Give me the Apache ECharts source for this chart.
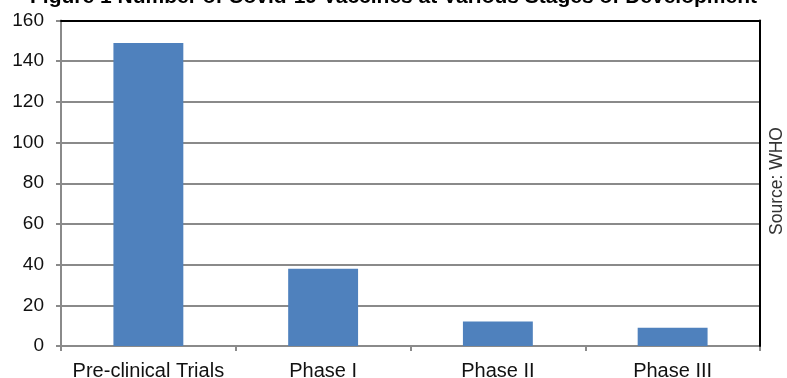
<!DOCTYPE html>
<html>
<head>
<meta charset="utf-8">
<script src="https://cdn.jsdelivr.net/npm/echarts@6/dist/echarts.min.js"></script>
<style>html,body{margin:0;padding:0;background:#fff}#c{width:787px;height:378px}</style>
</head>
<body>
<div id="c"></div>
<script>
const categories = ['Pre-clinical Trials', 'Phase I', 'Phase II', 'Phase III'];
const vaccines = [149, 38, 12, 9];
const yTicks = { min: 0, max: 160, interval: 20 };
const titleText = 'Figure 1 Number of Covid-19 Vaccines at Various Stages of Development';
const sourceText = 'Source: WHO';

const chart = echarts.init(document.getElementById('c'));
const FONT = '"Liberation Sans", Arial, sans-serif';
chart.setOption({
  animation: false,
  backgroundColor: '#fff',
  title: {
    text: titleText,
    left: 'center',
    top: -18,
    textStyle: { fontFamily: FONT, fontSize: 21, fontWeight: 'bold', color: '#000' }
  },
  grid: { left: 61, right: 27, top: 20.5, bottom: 32, containLabel: false, outerBoundsMode: 'none' },
  xAxis: [{
    type: 'category',
    data: categories,
    boundaryGap: true,
    axisLine: { show: true, lineStyle: { color: '#8a8a8a', width: 2 } },
    axisTick: { show: true, length: 5, lineStyle: { color: '#8a8a8a', width: 2 } },
    axisLabel: { fontFamily: FONT, fontSize: 20, color: '#111', margin: 15, interval: 0 }
  }, {
    type: 'category',
    data: categories,
    position: 'top',
    z: 5,
    axisLine: { show: true, onZero: false, lineStyle: { color: '#000', width: 2 } },
    axisTick: { show: false },
    axisLabel: { show: false }
  }],
  yAxis: [{
    type: 'value',
    min: yTicks.min, max: yTicks.max, interval: yTicks.interval,
    axisLine: { show: true, lineStyle: { color: '#8a8a8a', width: 2 } },
    axisTick: { show: true, length: 5, lineStyle: { color: '#8a8a8a', width: 2 } },
    axisLabel: { fontFamily: FONT, fontSize: 19, color: '#111', margin: 17 },
    splitLine: { show: true, lineStyle: { color: '#8a8a8a', width: 2 } }
  }, {
    type: 'value',
    position: 'right',
    min: yTicks.min, max: yTicks.max, interval: yTicks.interval,
    z: 5,
    axisLine: { show: true, onZero: false, lineStyle: { color: '#000', width: 2 } },
    axisTick: { show: false },
    axisLabel: { show: false },
    splitLine: { show: false }
  }],
  series: [{
    type: 'bar',
    xAxisIndex: 0,
    yAxisIndex: 0,
    data: vaccines,
    barWidth: '40%',
    itemStyle: { color: '#4F81BD' }
  }],
  graphic: [{
    type: 'text',
    x: 777,
    y: 181,
    rotation: Math.PI / 2,
    style: {
      text: sourceText,
      fontFamily: FONT,
      fontSize: 17.5,
      fill: '#333',
      align: 'center',
      verticalAlign: 'middle'
    }
  }]
});
</script>
</body>
</html>
